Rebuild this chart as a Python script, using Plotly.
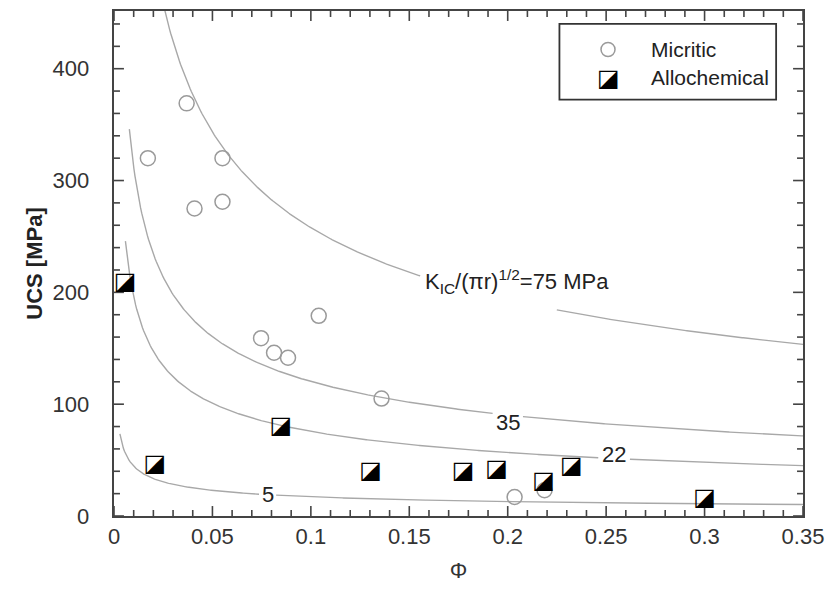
import numpy as np
import plotly.graph_objects as go

# ---- data ----
micritic_phi = [0.0172, 0.0369, 0.0409, 0.0551, 0.0551, 0.0747, 0.0813, 0.0884, 0.104, 0.1359, 0.2035, 0.2187]
micritic_ucs = [320, 369, 275, 320, 281, 159, 146, 141.5, 179, 105, 17, 23]

alloc_phi = [0.0056, 0.0207, 0.0848, 0.1303, 0.1773, 0.1944, 0.2182, 0.2323, 0.300]
alloc_ucs = [208, 45.5, 80, 39, 39, 41, 30, 43.7, 15]

# model curves: UCS = 1.325 * K_IC/(pi r)^0.5 * phi^-0.414 (pore-emanated crack model)
curve_k = [75, 35, 22, 5]
curve_phi_start = [0.02, 0.0078, 0.0058, 0.003]
curve_gap = [(0.156, 0.2245), (0.1924, 0.2076), (0.2465, 0.2616), (0.0737, 0.0823)]
curve_label_text = ["K<sub>IC</sub>/(πr)<sup>1/2</sup>=75 MPa", "35", "22", "5"]
curve_label_phi = [0.157, 0.2, 0.254, 0.0783]
curve_label_ucs = [210, 83.8, 55.3, 19.6]
model_coef = 1.325
model_exp = -0.414
phi_max = 0.35
ucs_max = 451.6

x_tickvals = [0, 0.05, 0.1, 0.15, 0.2, 0.25, 0.3, 0.35]
y_tickvals = [0, 100, 200, 300, 400]
x_minor, y_minor = 0.01, 20
major_len, minor_len = 10, 6

W, H = 833, 593
ML, MR, MT, MB = 114, 26, 9, 77

FONT = "Liberation Sans, Arial, sans-serif"
CURVE_COLOR = "#a8a8a8"
AXIS_COLOR = "#444444"
CIRCLE_COLOR = "#9a9a9a"

fig = go.Figure()

for k, p0, gap in zip(curve_k, curve_phi_start, curve_gap):
    phi = np.linspace(p0, phi_max, 600)
    ucs = model_coef * k * phi ** model_exp
    xs, ys = [], []
    for p, u in zip(phi, ucs):
        if gap[0] < p < gap[1]:
            if xs and xs[-1] is not None:
                xs.append(None)
                ys.append(None)
            continue
        xs.append(float(p))
        ys.append(float(u))
    fig.add_trace(go.Scatter(x=xs, y=ys, mode="lines",
                             line=dict(color=CURVE_COLOR, width=1.4),
                             showlegend=False, hoverinfo="skip"))

# inside tick marks on all four sides, drawn as one line trace (pixel lengths -> data units)
px_x = phi_max / (W - ML - MR)
px_y = ucs_max / (H - MT - MB)
tx, ty = [], []
n_x = int(round(phi_max / x_minor))
for i in range(n_x + 1):
    xv = round(i * x_minor, 4)
    is_major = any(abs(xv - m) < 1e-9 for m in x_tickvals)
    ln = (major_len if is_major else minor_len) * px_y
    tx += [xv, xv, None, xv, xv, None]
    ty += [0.0, ln, None, ucs_max, ucs_max - ln, None]
n_y = int(ucs_max // y_minor)
for i in range(n_y + 1):
    yv = i * y_minor
    ln = (major_len if yv in y_tickvals else minor_len) * px_x
    tx += [0.0, ln, None, phi_max, phi_max - ln, None]
    ty += [yv, yv, None, yv, yv, None]
fig.add_trace(go.Scatter(x=tx, y=ty, mode="lines", line=dict(color=AXIS_COLOR, width=1.6),
                         connectgaps=False, cliponaxis=False,
                         showlegend=False, hoverinfo="skip"))

fig.add_trace(go.Scatter(x=micritic_phi, y=micritic_ucs, mode="markers", name="Micritic",
                         marker=dict(symbol="circle-open", size=15,
                                     line=dict(color=CIRCLE_COLOR, width=1.5), color=CIRCLE_COLOR),
                         showlegend=False))

fig.add_trace(go.Scatter(x=alloc_phi, y=alloc_ucs, mode="text", name="Allochemical",
                         text=["◪"] * len(alloc_phi), textposition="middle center",
                         textfont=dict(family="DejaVu Sans", size=24, color="black"),
                         showlegend=False))

# manual legend in paper coordinates
leg_x0, leg_x1, leg_y0, leg_y1 = 0.6465, 0.961, 0.8245, 0.9744
leg_mx, leg_tx = 0.717, 0.776
leg_rows = [0.9237, 0.868]
fig.add_shape(type="rect", xref="paper", yref="paper", x0=leg_x0, x1=leg_x1, y0=leg_y0, y1=leg_y1,
              line=dict(color="#333333", width=1.8), fillcolor="white", layer="below")
fig.add_shape(type="circle", xref="paper", yref="paper", xsizemode="pixel", ysizemode="pixel",
              xanchor=leg_mx, yanchor=leg_rows[0], x0=-7, x1=7, y0=-7, y1=7,
              line=dict(color=CIRCLE_COLOR, width=1.5), fillcolor="rgba(0,0,0,0)")
fig.add_annotation(x=leg_mx, y=leg_rows[1], xref="paper", yref="paper", text="◪", showarrow=False,
                   xanchor="center", yanchor="middle",
                   font=dict(family="DejaVu Sans", size=24, color="black"))
for name, yy in zip(["Micritic", "Allochemical"], leg_rows):
    fig.add_annotation(x=leg_tx, y=yy, xref="paper", yref="paper", text=name, showarrow=False,
                       xanchor="left", yanchor="middle",
                       font=dict(family=FONT, size=21, color="#222222"))

for i, (t, lx, ly) in enumerate(zip(curve_label_text, curve_label_phi, curve_label_ucs)):
    fig.add_annotation(x=lx, y=ly, text=t, showarrow=False,
                       xanchor="left" if i == 0 else "center", yanchor="middle",
                       font=dict(family=FONT, size=22, color="#222222"))

fig.update_layout(
    width=W, height=H,
    margin=dict(l=ML, r=MR, t=MT, b=MB),
    plot_bgcolor="white", paper_bgcolor="white",
    xaxis=dict(range=[0, phi_max], tickmode="array", tickvals=x_tickvals,
               ticktext=[f"{v:g}" for v in x_tickvals],
               showline=True, linecolor=AXIS_COLOR, linewidth=2, mirror=True,
               ticks="", showgrid=False, zeroline=False,
               tickfont=dict(family=FONT, size=22, color="#333333"),
               title=dict(text="Φ", font=dict(family=FONT, size=22, color="#333333"), standoff=14)),
    yaxis=dict(range=[0, ucs_max], tickmode="array", tickvals=y_tickvals,
               ticktext=[f"{v}   " for v in y_tickvals],
               showline=True, linecolor=AXIS_COLOR, linewidth=2, mirror=True,
               ticks="", showgrid=False, zeroline=False,
               tickfont=dict(family=FONT, size=22, color="#333333"),
               title=dict(text="<b>UCS [MPa]</b>", font=dict(family=FONT, size=22, color="#222222"), standoff=4)),
    showlegend=False,
)

fig.write_html("out.html")
